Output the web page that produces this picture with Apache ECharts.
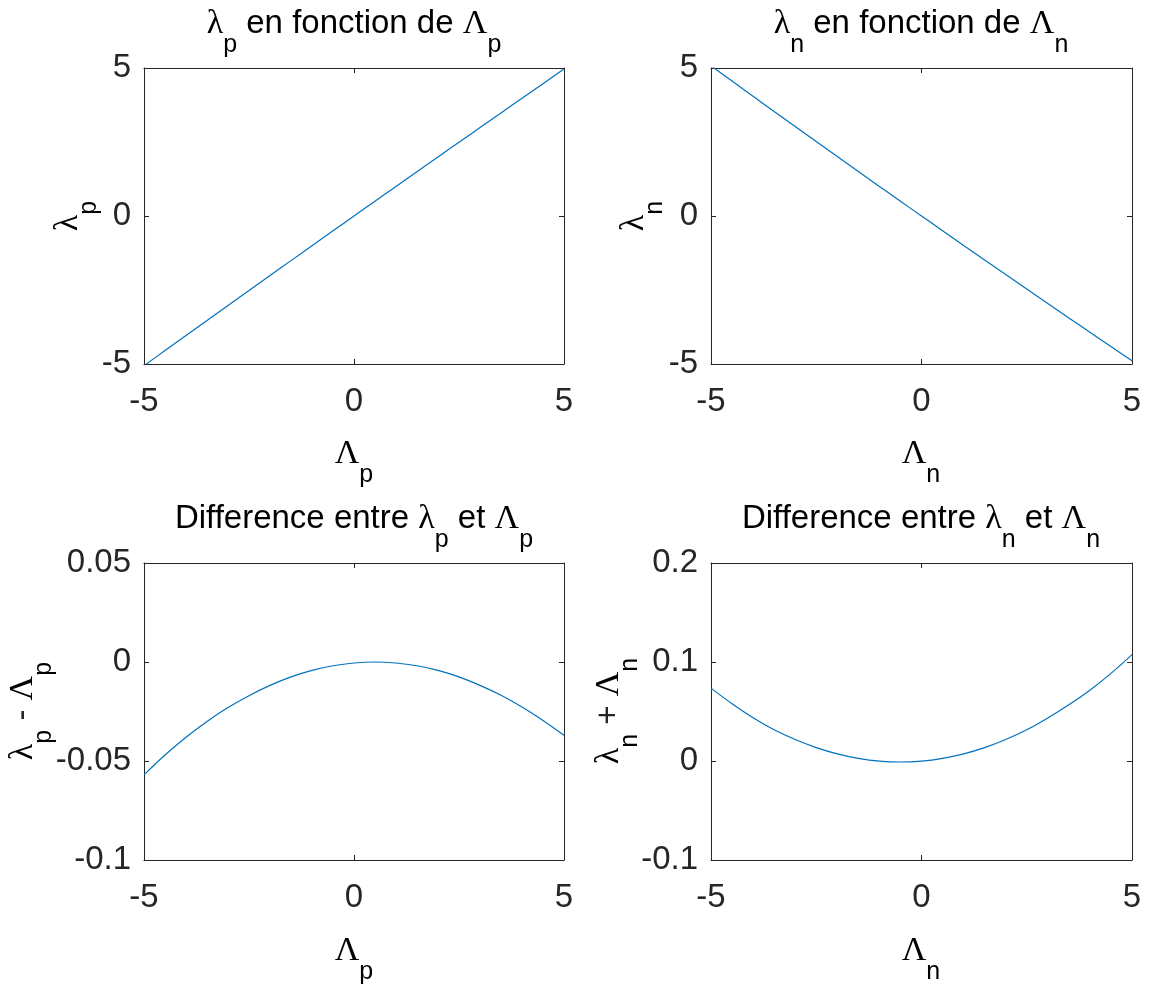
<!DOCTYPE html>
<html>
<head>
<meta charset="utf-8">
<script src="https://cdn.jsdelivr.net/npm/echarts@6/dist/echarts.min.js"></script>
<style>
html,body{margin:0;padding:0;background:#fff;}
#chart{width:1152px;height:989px;}
</style>
</head>
<body>
<div id="chart"></div>
<script>
// Abscissa values (Λp and Λn)
const lambdaCap = [-5,-4.5,-4,-3.5,-3,-2.5,-2,-1.5,-1,-0.5,0,0.5,1,1.5,2,2.5,3,3.5,4,4.5,5];
// λp as a function of Λp
const lambdaP = [-5.057,-4.547,-4.038,-3.530,-3.023,-2.517,-2.0118,-1.5075,-1.0042,-0.5019,-0.0005,0.5,0.9995,1.4981,1.9958,2.4925,2.9882,3.4832,3.9773,4.4705,4.963];
// λn as a function of Λn
const lambdaN = [5.0736,4.5578,4.0437,3.5315,3.0217,2.5135,2.0072,1.5027,0.9999,0.499,-0.0001,-0.4973,-0.9928,-1.4865,-1.9783,-2.4685,-2.9565,-3.4432,-3.9285,-4.4115,-4.8925];
// λp - Λp
const diffP = [-0.057,-0.047,-0.038,-0.030,-0.023,-0.017,-0.0118,-0.0075,-0.0042,-0.0019,-0.0005,0,-0.0005,-0.0019,-0.0042,-0.0075,-0.0118,-0.0168,-0.0227,-0.0295,-0.037];
// λn + Λn
const sumN = [0.0736,0.0578,0.0437,0.0315,0.0217,0.0135,0.0072,0.0027,-0.0001,-0.001,-0.0001,0.0027,0.0072,0.0135,0.0217,0.0315,0.0435,0.0568,0.0715,0.0885,0.1075];

// axis ranges [min, max, interval]
const xRange = [-5, 5, 5];
const yRanges = [[-5, 5, 5], [-5, 5, 5], [-0.1, 0.05, 0.05], [-0.1, 0.2, 0.1]];

const AX = '#262626';
const FONT = 'Liberation Sans';
const SERIF = 'Liberation Serif';

const grids = [
  {left:144, top:68, width:420, height:296},
  {left:711, top:68, width:421, height:296},
  {left:144, top:563, width:420, height:297},
  {left:711, top:563, width:421, height:297}
];

const lineStyleAxis = {show:true, onZero:false, lineStyle:{color:AX, width:1}};
const tickIn = {show:true, inside:true, length:5, lineStyle:{color:AX, width:1}};
const labelStyle = {color:AX, fontSize:33, fontFamily:FONT, showMinLabel:true, showMaxLabel:true};

const xAxis = [], yAxis = [];
grids.forEach((g, i) => {
  xAxis.push({type:'value', gridIndex:i, position:'bottom', min:xRange[0], max:xRange[1], interval:xRange[2],
    axisLine:lineStyleAxis, axisTick:tickIn, splitLine:{show:false},
    axisLabel:Object.assign({margin:21}, labelStyle)});
  xAxis.push({type:'value', gridIndex:i, position:'top', min:xRange[0], max:xRange[1], interval:xRange[2],
    axisLine:lineStyleAxis, axisTick:tickIn, splitLine:{show:false}, axisLabel:{show:false}});
  const yr = yRanges[i];
  yAxis.push({type:'value', gridIndex:i, position:'left', min:yr[0], max:yr[1], interval:yr[2],
    axisLine:lineStyleAxis, axisTick:tickIn, splitLine:{show:false},
    axisLabel:Object.assign({margin:13}, labelStyle)});
  yAxis.push({type:'value', gridIndex:i, position:'right', min:yr[0], max:yr[1], interval:yr[2],
    axisLine:lineStyleAxis, axisTick:tickIn, splitLine:{show:false}, axisLabel:{show:false}});
});

const seriesY = [lambdaP, lambdaN, diffP, sumN];
const series = seriesY.map((ys, i) => ({
  type:'line', xAxisIndex:2*i, yAxisIndex:2*i, showSymbol:false, smooth:0.3, clip:true,
  lineStyle:{color:'#0072BD', width:1.2},
  data: lambdaCap.map((x, k) => [x, ys[k]])
}));

const rich = {
  t:{fontFamily:FONT, fontSize:33, fill:'#000', color:'#000'},
  a:{fontFamily:FONT, fontSize:33, fill:AX, color:AX},
  g:{fontFamily:SERIF, fontSize:34, fill:'#000', color:'#000'},
  s:{fontFamily:FONT, fontSize:25, fill:'#000', color:'#000', padding:[42,0,0,0]}
};
function txt(text, x, y, rot) {
  return {type:'text', x:x, y:y, rotation:rot || 0, silent:true,
    style:{text:text, rich:rich, align:'center', verticalAlign:'middle', fill:'#000'}};
}
const graphic = [
  txt('{g|λ}{s|p}{t| en fonction de }{g|Λ}{s|p}', 354, 24),
  txt('{g|λ}{s|n}{t| en fonction de }{g|Λ}{s|n}', 921, 24),
  txt('{t|Difference entre }{g|λ}{s|p}{t| et }{g|Λ}{s|p}', 354, 519),
  txt('{t|Difference entre }{g|λ}{s|n}{t| et }{g|Λ}{s|n}', 921, 519),
  txt('{g|Λ}{s|p}', 354, 454),
  txt('{g|Λ}{s|n}', 921, 454),
  txt('{g|Λ}{s|p}', 354, 951),
  txt('{g|Λ}{s|n}', 921, 951),
  txt('{g|λ}{s|p}', 68, 216, Math.PI/2),
  txt('{g|λ}{s|n}', 634, 216, Math.PI/2),
  txt('{g|λ}{s|p}{a| - }{g|Λ}{s|p}', 23, 711, Math.PI/2),
  txt('{g|λ}{s|n}{a| + }{g|Λ}{s|n}', 609, 711, Math.PI/2)
];

const chart = echarts.init(document.getElementById('chart'));
chart.setOption({
  backgroundColor:'#fff',
  animation:false,
  grid:grids,
  xAxis:xAxis,
  yAxis:yAxis,
  series:series,
  graphic:graphic
});
</script>
</body>
</html>
